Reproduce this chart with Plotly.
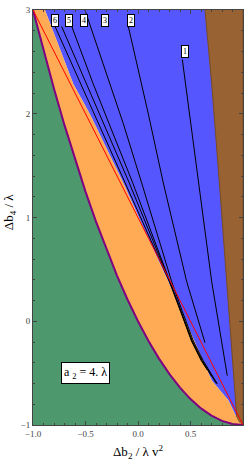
import plotly.graph_objects as go

# ---- data ----
# purple boundary (green / orange)
purple_x = [-1.0, -0.9, -0.8, -0.7, -0.6, -0.5, -0.4, -0.3, -0.2, -0.1, 0.0,
            0.1, 0.2, 0.3, 0.4, 0.5, 0.6, 0.7, 0.8, 0.9, 1.0]
purple_y = [3.0, 2.61, 2.24, 1.89, 1.56, 1.25, 0.96, 0.69, 0.44, 0.21, 0.0,
            -0.19, -0.36, -0.51, -0.64, -0.75, -0.84, -0.91, -0.96, -0.99, -1.0]

# orange / blue boundary
orange_x = [-0.886, -0.616, -0.46, -0.140, 0.114, 0.289, 0.495, 0.702, 0.860, 0.96]
orange_y = [3.0, 2.286, 2.0, 1.333, 0.762, 0.381, -0.095, -0.571, -0.762, -0.97]

# blue / brown boundary
brown_x = [0.638, 0.702, 0.775, 0.844, 0.917, 0.946]
brown_y = [3.0, 2.286, 1.333, 0.381, -0.571, -1.0]

# red line
red_x = [-1.0, 1.0]
red_y = [3.0, -1.0]

# contour lines 1..6
line_x = {
    "1": [0.422, 0.574, 0.702, 0.850],
    "2": [-0.092, 0.098, 0.241, 0.464, 0.638],
    "3": [-0.505, -0.140, 0.035, 0.321, 0.422, 0.527, 0.622, 0.755],
    "4": [-0.631, -0.426, -0.050, 0.307, 0.413, 0.517, 0.613, 0.746],
    "5": [-0.727, -0.490, -0.083, 0.303, 0.409, 0.513, 0.608, 0.70],
    "6": [-0.790, -0.545, -0.124, 0.299, 0.405, 0.509, 0.603, 0.66],
}
line_y = {
    "1": [2.524, 1.333, 0.381, -0.524],
    "2": [2.841, 2.0, 1.333, 0.381, -0.207],
    "3": [3.0, 1.905, 1.333, 0.381, 0.095, -0.190, -0.381, -0.603],
    "4": [2.841, 2.286, 1.333, 0.381, 0.095, -0.190, -0.381, -0.600],
    "5": [2.841, 2.286, 1.333, 0.381, 0.095, -0.190, -0.381, -0.53],
    "6": [2.841, 2.286, 1.333, 0.381, 0.095, -0.190, -0.381, -0.47],
}
label_names = ["1", "2", "3", "4", "5", "6"]
label_x = [0.452, -0.067, -0.314, -0.514, -0.657, -0.790]
label_y = [2.60, 2.895, 2.895, 2.895, 2.895, 2.895]

x_ticks = [-1.0, -0.5, 0.0, 0.5, 1.0]
y_ticks = [-1, 0, 1, 2, 3]

GREEN = "rgb(78,152,110)"
ORANGE = "rgb(255,170,85)"
BLUE = "rgb(86,86,255)"
BROWN = "rgb(152,98,50)"
SERIF = "Liberation Serif"

fig = go.Figure()

# blue: right of the orange boundary
fig.add_trace(go.Scatter(
    x=orange_x + [1.0, 1.0], y=orange_y + [-1.0, 3.0],
    fill="toself", fillcolor=BLUE, mode="none", hoverinfo="skip"))
# brown: right of brown boundary
fig.add_trace(go.Scatter(
    x=brown_x + [1.0, 1.0], y=brown_y + [-1.0, 3.0],
    fill="toself", fillcolor=BROWN, mode="lines",
    line=dict(color="rgb(120,75,35)", width=1), hoverinfo="skip"))
# orange: between purple curve and orange boundary
fig.add_trace(go.Scatter(
    x=purple_x + orange_x[::-1], y=purple_y + orange_y[::-1],
    fill="toself", fillcolor=ORANGE, mode="none", hoverinfo="skip"))
# green: below purple curve
fig.add_trace(go.Scatter(
    x=purple_x + [-1.0], y=purple_y + [-1.0],
    fill="toself", fillcolor=GREEN, mode="none", hoverinfo="skip"))
# purple curve
fig.add_trace(go.Scatter(x=purple_x, y=purple_y, mode="lines",
                         line=dict(color="rgb(128,0,128)", width=2), hoverinfo="skip"))
# contour lines
for k in label_names:
    fig.add_trace(go.Scatter(x=line_x[k], y=line_y[k], mode="lines",
                             line=dict(color="black", width=1), hoverinfo="skip"))
# red line
fig.add_trace(go.Scatter(x=red_x, y=red_y, mode="lines",
                         line=dict(color="rgb(255,0,0)", width=1), hoverinfo="skip"))

for name, lx, ly in zip(label_names, label_x, label_y):
    fig.add_annotation(x=lx, y=ly, text=name, showarrow=False,
                       xanchor="center", yanchor="middle",
                       font=dict(family=SERIF, size=8, color="black"),
                       bgcolor="white", bordercolor="black", borderwidth=1, borderpad=1)

fig.add_annotation(xref="paper", yref="paper", x=0.252, y=0.126,
                   xanchor="center", yanchor="middle",
                   text="a <sub>2</sub> = 4. λ", showarrow=False,
                   font=dict(family=SERIF, size=12, color="black"),
                   bgcolor="white", bordercolor="black", borderwidth=1, borderpad=2)

fig.add_annotation(xref="paper", yref="paper", x=0.5, y=-0.064,
                   xanchor="center", yanchor="middle",
                   text="Δb<sub>2</sub> / λ v<sup>2</sup>", showarrow=False,
                   font=dict(family=SERIF, size=13, color="black"))
fig.add_annotation(xref="paper", yref="paper", x=-0.112, y=0.514,
                   xanchor="center", yanchor="middle",
                   text="Δb<sub>4</sub> / λ", showarrow=False, textangle=-90,
                   font=dict(family=SERIF, size=13, color="black"))

axis_common = dict(showgrid=False, zeroline=False, showline=True, mirror="allticks",
                   linecolor="#444", linewidth=1, ticks="inside", ticklen=4,
                   tickcolor="#444", tickfont=dict(family=SERIF, size=9, color="#444"))

fig.update_xaxes(range=[-1, 1], tickvals=x_ticks, tickformat=".1f",
                 minor=dict(dtick=0.1, ticks="inside", ticklen=2, tickcolor="#444"),
                 **axis_common)
fig.update_yaxes(range=[-1, 3], tickvals=y_ticks,
                 minor=dict(dtick=0.2, ticks="inside", ticklen=2, tickcolor="#444"),
                 **axis_common)

fig.update_layout(width=249, height=461, showlegend=False,
                  margin=dict(l=33, r=6, t=5, b=36),
                  paper_bgcolor="white", plot_bgcolor="white")

fig.write_html("out.html", config={"displayModeBar": False},
               post_script="document.body.style.margin='0';document.body.style.overflow='hidden';")
